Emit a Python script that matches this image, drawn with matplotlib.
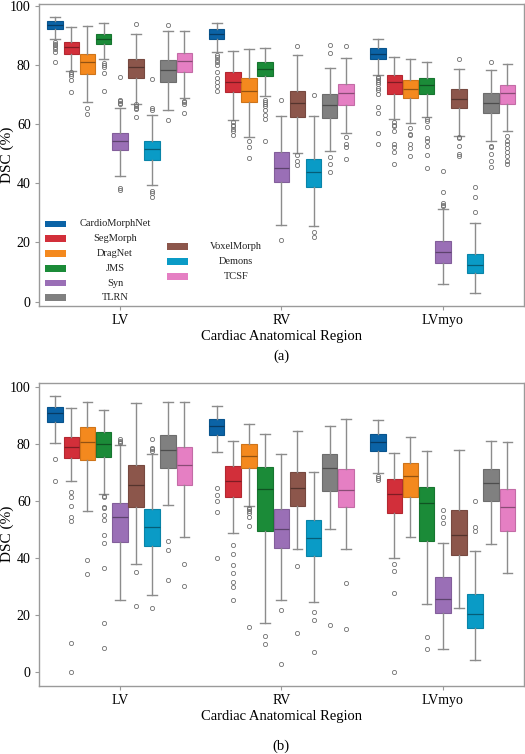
"""
Box plots of DSC (%) per cardiac region for nine registration methods,
two panels (a) and (b).
"""
import matplotlib
matplotlib.use("Agg")
import matplotlib.pyplot as plt
from matplotlib.patches import Rectangle
from matplotlib.colors import to_rgb

plt.rcParams['font.family'] = ['Liberation Serif', 'DejaVu Serif']

regions = ["LV", "RV", "LVmyo"]
# legend order
methods = ["CardioMorphNet", "SegMorph", "DragNet", "JMS", "Syn",
           "TLRN", "VoxelMorph", "Demons", "TCSF"]
# left-to-right order of the boxes inside each region
box_order = ["CardioMorphNet", "SegMorph", "DragNet", "JMS", "Syn",
             "VoxelMorph", "Demons", "TLRN", "TCSF"]
palette = {"CardioMorphNet": "#0b63a6", "SegMorph": "#d22f3a",
           "DragNet": "#f4891e", "JMS": "#1b8b38", "Syn": "#9a6fb6",
           "TLRN": "#808080", "VoxelMorph": "#8c564b",
           "Demons": "#0a9bc6", "TCSF": "#e57fc3"}

# each entry: (whislo, q1, med, q3, whishi, fliers), in box_order
stats_a_lv = [
    (88.7, 92.3, 93.7, 94.8, 96.4, [87.8, 87.3, 86.7, 86.1, 85.4, 84.5, 81.1]),
    (78.1, 83.9, 86.0, 88.0, 92.8, [77.7, 77.1, 76.2, 75.1, 70.9]),
    (67.5, 77.1, 81.1, 83.7, 93.2, [65.6, 63.6]),
    (82.1, 87.1, 89.0, 90.7, 94.3, [80.9, 80.2, 79.4, 77.4, 71.3]),
    (42.5, 51.2, 54.2, 57.1, 65.6, [76.1, 68.3, 67.9, 67.3, 67.0, 38.5, 37.6]),
    (67.0, 75.7, 79.3, 82.0, 90.4, [93.9, 66.7, 66.1, 65.6, 65.3, 62.4]),
    (39.6, 48.0, 51.6, 54.5, 63.2, [75.3, 65.6, 64.7, 37.3, 36.7, 35.3]),
    (64.7, 74.2, 78.3, 81.7, 91.5, [93.6, 61.5]),
    (69.0, 77.7, 81.3, 84.0, 91.5, [67.9, 67.4, 66.7, 63.8]),
]
stats_a_rv = [
    (84.5, 88.9, 90.6, 92.1, 94.3, [83.6, 82.6, 81.9, 81.0, 80.0, 77.7,
                                    75.5, 74.3, 72.9, 71.3]),
    (61.3, 70.9, 74.3, 77.6, 84.7, [60.7, 59.9, 59.3, 58.5, 57.7, 56.4]),
    (55.7, 67.6, 71.3, 75.6, 85.6, [54.3, 52.3, 48.6]),
    (69.7, 76.2, 78.6, 81.0, 85.9, [68.3, 67.5, 67.0, 66.1, 64.9, 63.3,
                                    61.9, 54.5]),
    (26.0, 40.5, 45.3, 50.5, 62.9, [68.1, 20.9]),
    (50.3, 62.6, 67.3, 71.2, 83.4, [86.5, 49.7, 47.5, 46.2]),
    (25.5, 38.7, 44.0, 48.3, 62.9, [69.8, 23.6, 22.0]),
    (50.9, 62.1, 66.4, 70.4, 78.9, [86.9, 84.2, 48.9, 46.6, 43.8]),
    (57.1, 66.5, 70.7, 73.6, 82.5, [86.5, 55.6, 53.2, 52.3, 48.4]),
]
stats_a_myo = [
    (76.7, 82.0, 83.9, 85.9, 89.0, [76.0, 75.5, 74.9, 74.3, 73.5, 72.4,
                                    71.7, 70.4, 65.8, 63.9, 57.0, 53.4]),
    (61.7, 70.4, 74.3, 76.7, 82.9, [60.7, 59.9, 59.3, 57.7, 53.4, 52.3,
                                    50.6, 46.5]),
    (60.4, 68.9, 72.1, 75.1, 82.2, [58.8, 56.8, 56.3, 53.4, 51.9, 49.1]),
    (62.4, 70.4, 73.4, 75.7, 81.1, [61.7, 61.0, 59.0, 55.4, 54.5, 52.7,
                                    49.5, 45.1]),
    (6.0, 13.1, 16.9, 20.5, 31.4, [44.3, 37.0, 33.2, 32.6, 32.2]),
    (55.9, 65.6, 68.7, 72.1, 78.8, [82.0, 55.7, 55.3, 52.6, 50.0, 49.4]),
    (2.9, 9.5, 12.5, 16.2, 26.5, [38.7, 35.5, 30.4]),
    (54.4, 63.9, 67.2, 70.7, 78.5, [81.1, 52.6, 52.3, 49.8, 47.5, 45.5]),
    (57.7, 67.0, 70.6, 73.4, 80.5, [55.9, 54.5, 53.4, 51.9, 50.6, 49.4,
                                    47.7, 46.6]),
]

stats_b_lv = [
    (80.6, 87.7, 90.9, 93.2, 96.9, [74.8, 67.2]),
    (67.0, 75.1, 79.2, 82.7, 92.8, [63.3, 61.6, 58.3, 54.6, 52.9, 10.2, 0.2]),
    (56.7, 74.3, 80.9, 86.0, 94.7, [39.4, 34.5]),
    (62.7, 75.6, 80.0, 84.3, 91.9, [61.9, 61.4, 58.1, 57.7, 55.1, 53.4,
                                    48.1, 45.5, 36.7, 17.2, 8.6]),
    (25.2, 45.8, 54.5, 59.3, 79.8, [81.9, 81.3, 80.8, 80.3]),
    (37.9, 58.1, 65.6, 72.6, 94.4, [35.3, 23.4]),
    (27.1, 44.2, 51.0, 57.2, 76.6, [81.8, 78.8, 78.2, 77.8, 22.7]),
    (58.6, 71.6, 78.1, 83.1, 94.7, [46.2, 42.9, 32.5]),
    (47.5, 65.6, 72.6, 79.2, 94.7, [38.1, 30.3]),
]
stats_b_rv = [
    (77.3, 83.1, 86.4, 88.8, 93.5, [64.8, 62.2, 60.1, 56.2, 40.0]),
    (49.0, 61.6, 67.0, 72.2, 81.2, [44.8, 41.5, 37.6, 34.7, 31.6, 30.0, 25.2]),
    (58.5, 71.6, 75.8, 80.2, 87.1, [57.8, 57.2, 56.7, 56.0, 54.3, 51.3, 16.0]),
    (17.2, 49.7, 64.2, 72.0, 83.5, [12.9, 10.0]),
    (25.2, 43.5, 50.3, 57.3, 76.4, [21.7, 2.9]),
    (43.3, 58.3, 64.5, 70.3, 84.7, [37.4, 13.7]),
    (24.7, 40.8, 47.1, 53.4, 70.3, [21.3, 18.4, 7.2]),
    (50.2, 63.7, 71.8, 76.6, 86.5, [16.6]),
    (43.3, 58.1, 63.8, 71.2, 88.8, [31.2, 15.2]),
]
stats_b_myo = [
    (69.8, 77.6, 80.7, 83.7, 88.5, [68.9, 68.1, 67.3]),
    (40.1, 55.8, 62.4, 67.7, 76.8, [37.9, 35.6, 27.9, 0.2]),
    (47.4, 61.6, 68.8, 73.3, 82.7, []),
    (24.0, 46.1, 59.4, 65.1, 77.8, [12.4, 8.1]),
    (8.1, 20.7, 25.6, 33.4, 45.2, [57.0, 54.4, 52.5]),
    (22.4, 41.0, 48.1, 57.0, 78.0, []),
    (4.2, 15.4, 20.5, 27.5, 42.4, [60.0, 51.1, 49.7]),
    (45.0, 60.2, 66.5, 71.2, 81.3, []),
    (34.7, 49.5, 58.1, 64.2, 80.7, []),
]

panel_a = [stats_a_lv, stats_a_rv, stats_a_myo]
panel_b = [stats_b_lv, stats_b_rv, stats_b_myo]


def darker(c, f=0.75):
    r, g, b = to_rgb(c)
    return (r * f, g * f, b * f)


def draw_panel(ax, panel):
    """Draw one grouped box plot panel from precomputed box stats."""
    n = len(box_order)
    for i, region_stats in enumerate(panel):
        for j, s in enumerate(region_stats):
            lo, q1, med, q3, hi, fl = s
            col = palette[box_order[j]]
            pos = i + (j - (n - 1) / 2) * 0.1
            ax.bxp([dict(whislo=lo, q1=q1, med=med, q3=q3, whishi=hi,
                         fliers=fl)],
                   positions=[pos], widths=0.096, capwidths=0.06,
                   patch_artist=True, manage_ticks=False,
                   boxprops=dict(facecolor=col,
                                 edgecolor=darker(col, 0.85),
                                 linewidth=0.8),
                   medianprops=dict(color=darker(col, 0.6),
                                    linewidth=0.9),
                   whiskerprops=dict(color="#8c8c8c", linewidth=1.0),
                   capprops=dict(color="#8c8c8c", linewidth=1.0),
                   flierprops=dict(marker="o", markersize=3,
                                   markerfacecolor="none",
                                   markeredgecolor="#707070",
                                   markeredgewidth=0.6))
    ax.set_xlim(-0.5, 2.5)
    ax.set_xticks(range(len(regions)))
    ax.set_xticklabels(regions)
    ax.set_yticks([0, 20, 40, 60, 80, 100])
    ax.set_ylabel("DSC (%)", fontsize=11)
    ax.yaxis.set_label_coords(-0.052, 0.5)
    ax.set_xlabel("Cardiac Anatomical Region", fontsize=10.5, labelpad=2)
    ax.tick_params(labelsize=10, length=3, width=0.8, color="#999999",
                   pad=3)
    for sp in ax.spines.values():
        sp.set_color("#9a9a9a")
        sp.set_linewidth(1.0)


def draw_legend(ax):
    # two stacked columns, text centred next to the colour swatch
    col1 = methods[:6]
    col2 = methods[6:]
    for k, name in enumerate(col1):
        y = 0.272 - k * 0.049
        ax.add_patch(Rectangle((0.013, y - 0.011), 0.043, 0.022,
                               transform=ax.transAxes,
                               facecolor=palette[name], edgecolor="none"))
        ax.text(0.157, y, name, transform=ax.transAxes, ha="center",
                va="center", fontsize=7.5, color="#222222")
    for k, name in enumerate(col2):
        y = 0.196 - k * 0.0495
        ax.add_patch(Rectangle((0.264, y - 0.011), 0.043, 0.022,
                               transform=ax.transAxes,
                               facecolor=palette[name], edgecolor="none"))
        ax.text(0.407, y, name, transform=ax.transAxes, ha="center",
                va="center", fontsize=7.5, color="#222222")


fig = plt.figure(figsize=(5.25, 7.54), dpi=100)
ax_a = fig.add_axes([0.0743, 0.5942, 0.9229, 0.4005])
ax_b = fig.add_axes([0.0743, 0.0906, 0.9229, 0.4019])

draw_panel(ax_a, panel_a)
ax_a.set_ylim(-1.5, 100.7)
draw_legend(ax_a)

draw_panel(ax_b, panel_b)
ax_b.set_ylim(-4.7, 101.6)

fig.text(0.5357, 0.527, "(a)", ha="center", va="center", fontsize=10.5)
fig.text(0.5357, 0.0106, "(b)", ha="center", va="center", fontsize=10.5)

fig.savefig("out.png", dpi=100)
